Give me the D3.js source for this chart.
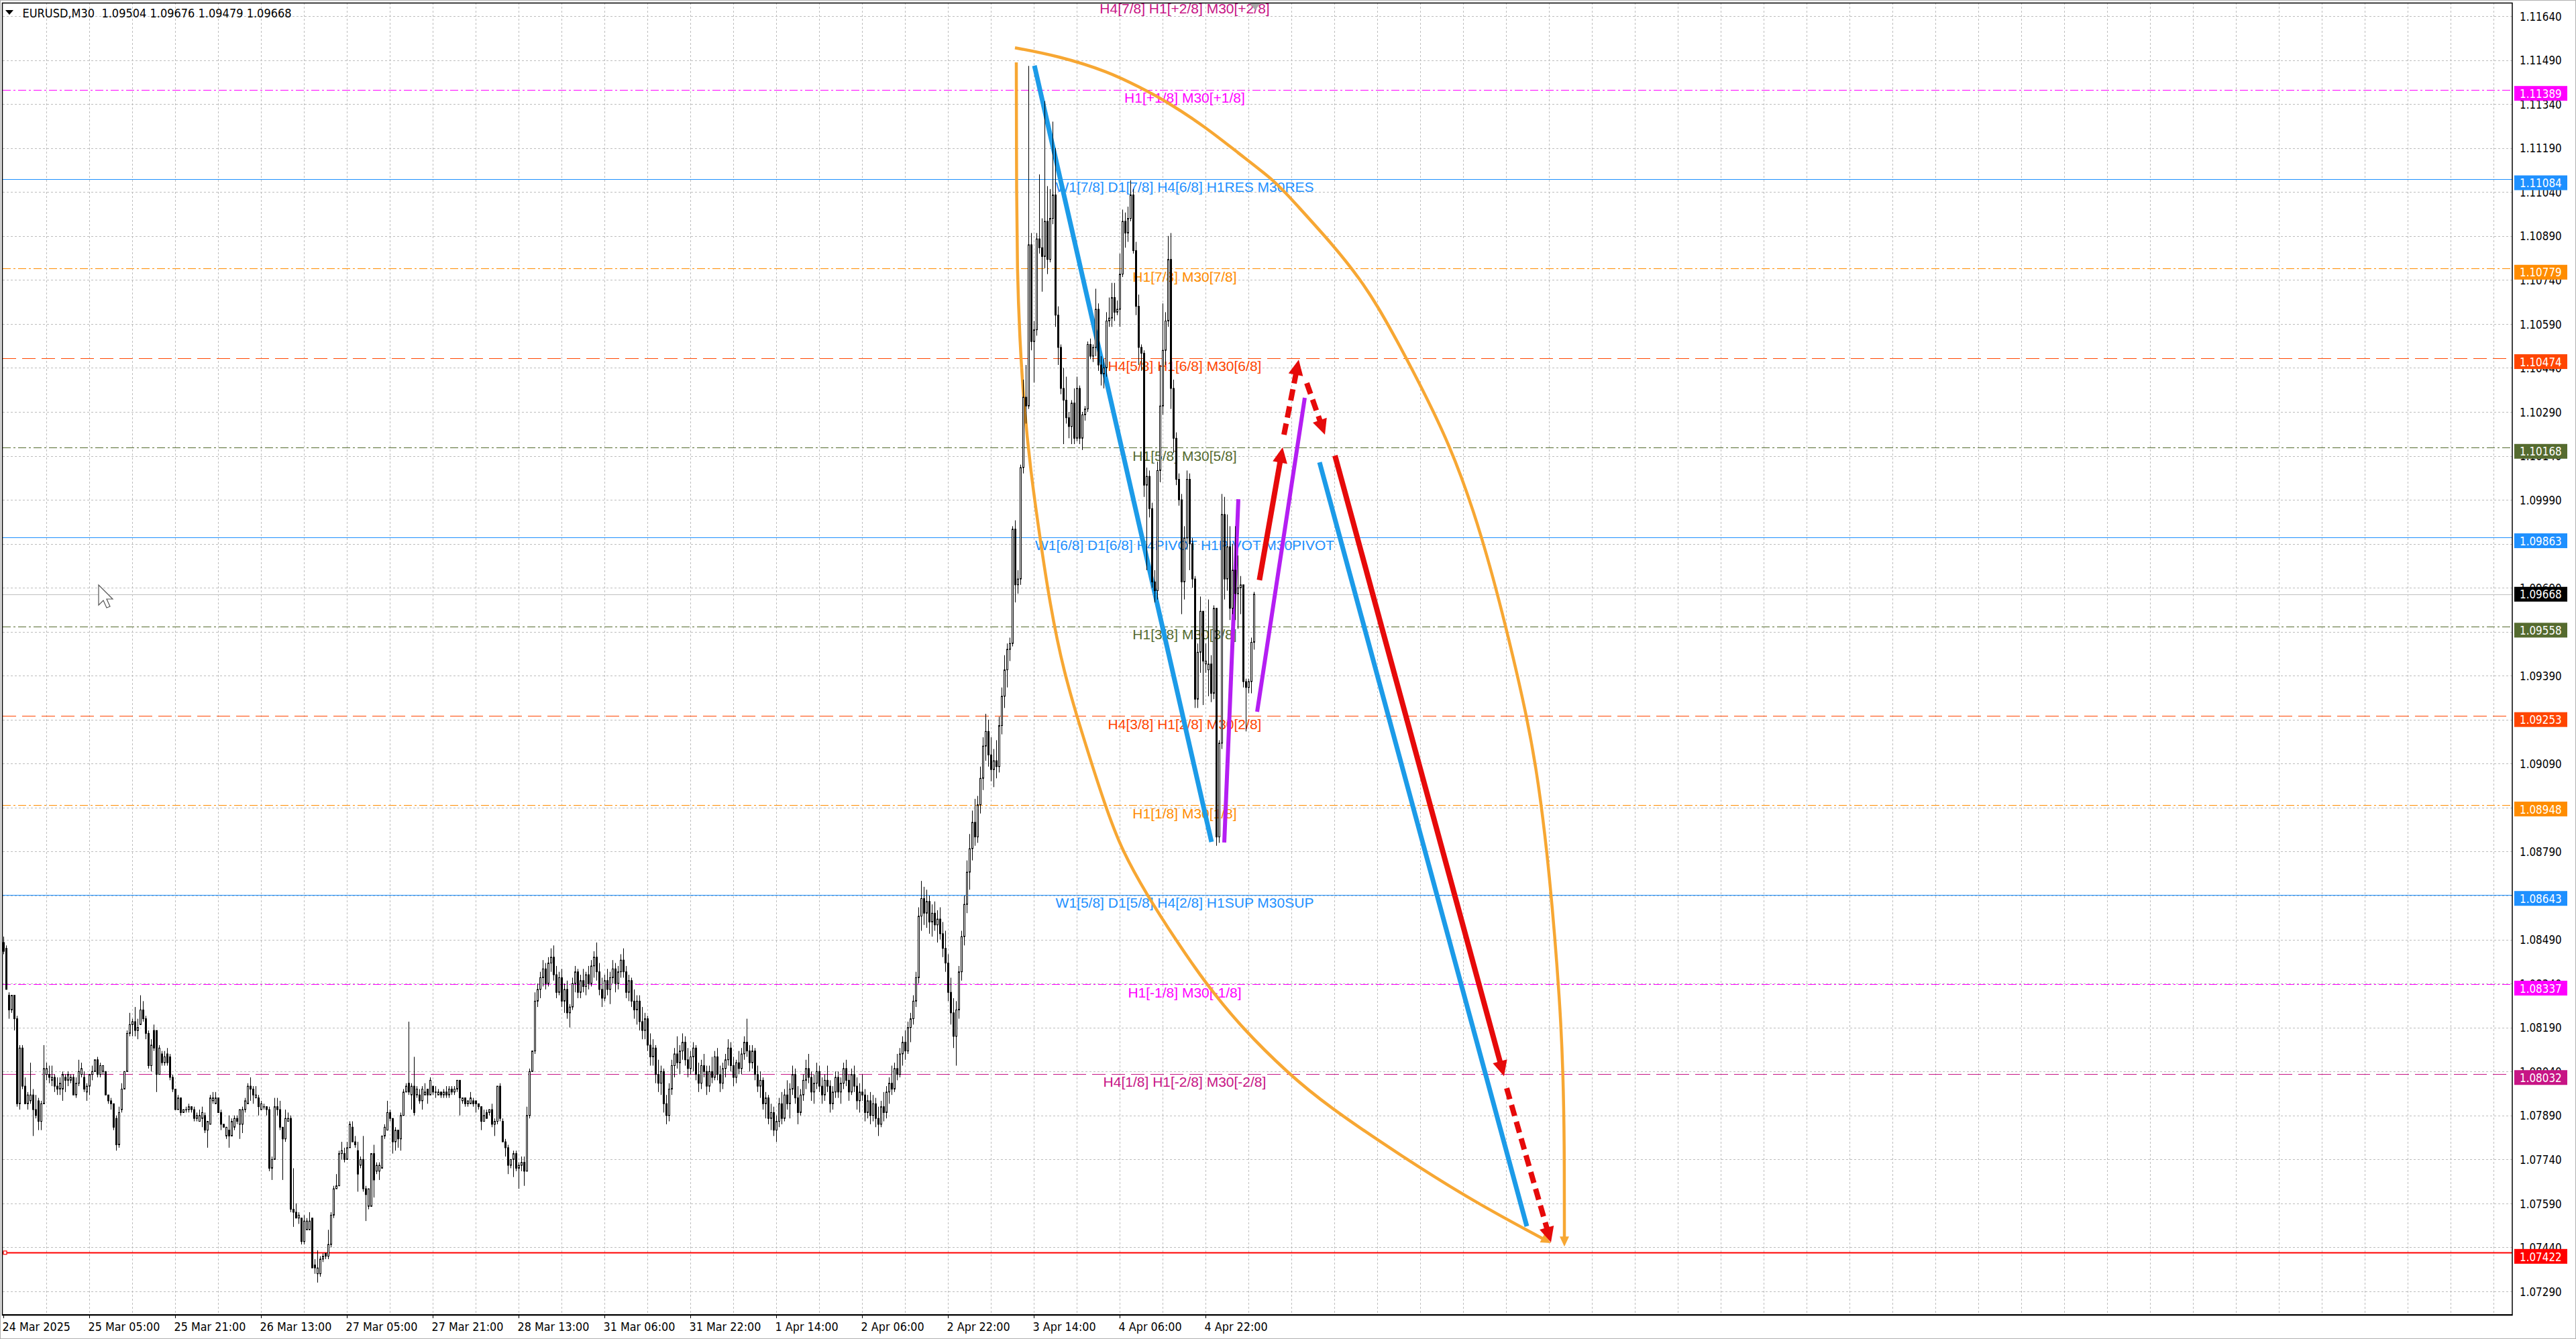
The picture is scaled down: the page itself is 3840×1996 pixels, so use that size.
<!DOCTYPE html>
<html><head><meta charset="utf-8">
<script src="https://cdn.jsdelivr.net/npm/d3@7"></script>
<style>html,body{margin:0;padding:0;background:#fff;overflow:hidden}</style>
</head><body>
<svg id="c" width="3840" height="1996" xmlns="http://www.w3.org/2000/svg"></svg>
<script>
// ---------------- DATA ----------------
const titleText = "EURUSD,M30  1.09504 1.09676 1.09479 1.09668";
const timeLabels = ["24 Mar 2025","25 Mar 05:00","25 Mar 21:00","26 Mar 13:00","27 Mar 05:00","27 Mar 21:00","28 Mar 13:00","31 Mar 06:00","31 Mar 22:00","1 Apr 14:00","2 Apr 06:00","2 Apr 22:00","3 Apr 14:00","4 Apr 06:00","4 Apr 22:00"];
const timeLabelBars = [0,32,64,96,128,160,192,224,256,288,320,352,384,416,448];
const priceTicks = [1.11640,1.11490,1.11340,1.11190,1.11040,1.10890,1.10740,1.10590,1.10440,1.10290,1.10140,1.09990,1.09840,1.09690,1.09540,1.09390,1.09240,1.09090,1.08940,1.08790,1.08640,1.08490,1.08340,1.08190,1.08040,1.07890,1.07740,1.07590,1.07440,1.07290];
const levelPrices = [1.11694,1.11389,1.11084,1.10779,1.10474,1.10168,1.09863,1.09558,1.09253,1.08948,1.08643,1.08337,1.08032,1.07422];
const levelTexts = ["H4[7/8] H1[+2/8] M30[+2/8]","H1[+1/8] M30[+1/8]","W1[7/8] D1[7/8] H4[6/8] H1RES M30RES","H1[7/8] M30[7/8]","H4[5/8] H1[6/8] M30[6/8]","H1[5/8] M30[5/8]","W1[6/8] D1[6/8] H4PIVOT H1PIVOT M30PIVOT","H1[3/8] M30[3/8]","H4[3/8] H1[2/8] M30[2/8]","H1[1/8] M30[1/8]","W1[5/8] D1[5/8] H4[2/8] H1SUP M30SUP","H1[-1/8] M30[-1/8]","H4[1/8] H1[-2/8] M30[-2/8]",""];
const levelColors = ["#C71585","#FF00FF","#1E90FF","#FF8C00","#FF4500","#556B2F","#1E90FF","#556B2F","#FF4500","#FF8C00","#1E90FF","#FF00FF","#C71585","#FF0000"];
const levelStyles = ["dash","dashdot","solid","dashdot","dash","dashdot","solid","dashdot","dash","dashdot","solid","dashdot","dash","solid"];
const levelLabelBar = 440.25;
const lastPrice = 1.09668;

// candles: [open, high, low, close]
const candles = [
[1.0848,1.0850,1.0844,1.0845],[1.0846,1.0847,1.0832,1.0832],[1.0830,1.0831,1.0822,1.0825],[1.0825,1.0830,1.0824,1.0830],[1.0830,1.0830,1.0818,1.0822],
[1.0822,1.0823,1.0792,1.0793],[1.0793,1.0813,1.0791,1.0812],[1.0812,1.0813,1.0798,1.0799],[1.0799,1.0802,1.0793,1.0793],[1.0793,1.0797,1.0791,1.0796],
[1.0794,1.0807,1.0793,1.0796],[1.0796,1.0798,1.0782,1.0791],[1.0791,1.0796,1.0788,1.0789],[1.0794,1.0795,1.0784,1.0787],[1.0787,1.0794,1.0784,1.0793],
[1.0793,1.0813,1.0793,1.0805],[1.0803,1.0807,1.0801,1.0805],[1.0803,1.0806,1.0800,1.0802],[1.0801,1.0806,1.0799,1.0802],[1.0802,1.0803,1.0797,1.0799],
[1.0799,1.0802,1.0796,1.0798],[1.0798,1.0802,1.0796,1.0800],[1.0798,1.0804,1.0794,1.0803],[1.0802,1.0803,1.0797,1.0801],[1.0801,1.0804,1.0799,1.0803],
[1.0801,1.0803,1.0800,1.0802],[1.0802,1.0803,1.0796,1.0796],[1.0796,1.0802,1.0795,1.0800],[1.0800,1.0808,1.0799,1.0804],[1.0803,1.0807,1.0802,1.0805],
[1.0802,1.0804,1.0797,1.0798],[1.0797,1.0800,1.0794,1.0799],[1.0799,1.0803,1.0796,1.0803],[1.0803,1.0806,1.0801,1.0804],[1.0804,1.0808,1.0804,1.0808],
[1.0808,1.0809,1.0802,1.0803],[1.0803,1.0807,1.0802,1.0806],[1.0804,1.0806,1.0803,1.0806],[1.0804,1.0804,1.0796,1.0796],[1.0796,1.0796,1.0793,1.0794],
[1.0794,1.0795,1.0791,1.0793],[1.0793,1.0793,1.0784,1.0785],[1.0788,1.0789,1.0777,1.0779],[1.0779,1.0792,1.0778,1.0790],[1.0791,1.0800,1.0790,1.0798],
[1.0798,1.0804,1.0798,1.0804],[1.0804,1.0818,1.0804,1.0817],[1.0817,1.0824,1.0816,1.0820],[1.0820,1.0822,1.0816,1.0821],[1.0821,1.0826,1.0816,1.0818],
[1.0818,1.0822,1.0815,1.0819],[1.0820,1.0830,1.0820,1.0825],[1.0825,1.0828,1.0821,1.0822],[1.0822,1.0823,1.0815,1.0817],[1.0817,1.0818,1.0805,1.0806],
[1.0806,1.0815,1.0804,1.0813],[1.0818,1.0820,1.0811,1.0812],[1.0818,1.0818,1.0797,1.0803],[1.0803,1.0813,1.0803,1.0812],[1.0810,1.0811,1.0806,1.0807],
[1.0807,1.0811,1.0806,1.0809],[1.0810,1.0812,1.0806,1.0807],[1.0809,1.0810,1.0801,1.0802],[1.0802,1.0803,1.0797,1.0798],[1.0798,1.0798,1.0791,1.0791],
[1.0791,1.0796,1.0791,1.0795],[1.0795,1.0795,1.0789,1.0790],[1.0790,1.0791,1.0790,1.0791],[1.0791,1.0792,1.0790,1.0791],[1.0791,1.0793,1.0790,1.0792],
[1.0792,1.0792,1.0790,1.0791],[1.0791,1.0792,1.0787,1.0788],[1.0788,1.0790,1.0787,1.0789],[1.0787,1.0791,1.0787,1.0789],[1.0788,1.0792,1.0785,1.0790],
[1.0789,1.0790,1.0783,1.0784],[1.0784,1.0787,1.0778,1.0787],[1.0786,1.0796,1.0786,1.0795],[1.0794,1.0797,1.0793,1.0795],[1.0793,1.0797,1.0793,1.0795],
[1.0795,1.0795,1.0790,1.0790],[1.0790,1.0791,1.0784,1.0786],[1.0786,1.0786,1.0785,1.0785],[1.0782,1.0785,1.0781,1.0785],[1.0784,1.0789,1.0778,1.0782],
[1.0782,1.0788,1.0782,1.0787],[1.0785,1.0789,1.0784,1.0788],[1.0788,1.0789,1.0786,1.0787],[1.0786,1.0791,1.0781,1.0791],[1.0786,1.0792,1.0783,1.0791],
[1.0791,1.0795,1.0790,1.0794],[1.0793,1.0800,1.0793,1.0799],[1.0799,1.0802,1.0794,1.0798],[1.0798,1.0799,1.0793,1.0796],[1.0795,1.0799,1.0795,1.0796],
[1.0795,1.0796,1.0789,1.0792],[1.0791,1.0794,1.0791,1.0793],[1.0792,1.0793,1.0791,1.0792],[1.0792,1.0792,1.0789,1.0791],[1.0791,1.0792,1.0770,1.0771],
[1.0771,1.0775,1.0767,1.0774],[1.0774,1.0795,1.0774,1.0792],[1.0792,1.0795,1.0789,1.0791],[1.0791,1.0794,1.0784,1.0785],[1.0785,1.0785,1.0767,1.0781],
[1.0781,1.0791,1.0780,1.0788],[1.0787,1.0790,1.0787,1.0788],[1.0788,1.0789,1.0756,1.0757],[1.0757,1.0771,1.0751,1.0756],[1.0756,1.0759,1.0754,1.0754],
[1.0754,1.0756,1.0752,1.0755],[1.0754,1.0754,1.0745,1.0746],[1.0746,1.0755,1.0745,1.0753],[1.0750,1.0754,1.0750,1.0753],[1.0750,1.0756,1.0750,1.0753],
[1.0754,1.0754,1.0737,1.0737],[1.0738,1.0740,1.0735,1.0737],[1.0735,1.0743,1.0732,1.0737],[1.0735,1.0741,1.0734,1.0740],[1.0740,1.0742,1.0739,1.0741],
[1.0742,1.0742,1.0740,1.0741],[1.0741,1.0750,1.0740,1.0745],[1.0745,1.0756,1.0744,1.0755],[1.0755,1.0765,1.0754,1.0764],[1.0764,1.0769,1.0764,1.0765],
[1.0765,1.0777,1.0765,1.0776],[1.0776,1.0780,1.0774,1.0777],[1.0776,1.0778,1.0773,1.0774],[1.0774,1.0780,1.0774,1.0778],[1.0778,1.0787,1.0778,1.0786],
[1.0785,1.0787,1.0780,1.0780],[1.0780,1.0782,1.0778,1.0779],[1.0777,1.0780,1.0763,1.0769],[1.0772,1.0775,1.0771,1.0774],[1.0774,1.0782,1.0763,1.0764],
[1.0764,1.0765,1.0753,1.0762],[1.0758,1.0764,1.0757,1.0764],[1.0758,1.0776,1.0758,1.0776],[1.0776,1.0779,1.0761,1.0767],[1.0770,1.0773,1.0769,1.0772],
[1.0770,1.0773,1.0767,1.0772],[1.0771,1.0782,1.0771,1.0782],[1.0782,1.0786,1.0781,1.0785],[1.0784,1.0794,1.0784,1.0790],[1.0790,1.0791,1.0787,1.0788],
[1.0788,1.0788,1.0776,1.0780],[1.0780,1.0785,1.0777,1.0784],[1.0784,1.0784,1.0778,1.0781],[1.0781,1.0790,1.0777,1.0789],[1.0789,1.0798,1.0789,1.0797],
[1.0797,1.0800,1.0797,1.0799],[1.0800,1.0821,1.0796,1.0797],[1.0796,1.0800,1.0791,1.0799],[1.0799,1.0809,1.0789,1.0790],[1.0796,1.0799,1.0795,1.0798],
[1.0796,1.0798,1.0793,1.0794],[1.0794,1.0799,1.0791,1.0798],[1.0796,1.0800,1.0796,1.0797],[1.0798,1.0798,1.0793,1.0796],[1.0796,1.0802,1.0796,1.0801],
[1.0799,1.0799,1.0796,1.0797],[1.0797,1.0799,1.0795,1.0797],[1.0796,1.0798,1.0796,1.0797],[1.0797,1.0797,1.0795,1.0796],[1.0796,1.0798,1.0795,1.0797],
[1.0797,1.0799,1.0795,1.0796],[1.0796,1.0799,1.0795,1.0798],[1.0798,1.0799,1.0796,1.0797],[1.0797,1.0799,1.0796,1.0798],[1.0798,1.0801,1.0797,1.0801],
[1.0801,1.0801,1.0789,1.0795],[1.0794,1.0795,1.0793,1.0795],[1.0795,1.0795,1.0792,1.0793],[1.0793,1.0794,1.0792,1.0794],[1.0793,1.0797,1.0793,1.0795],
[1.0794,1.0795,1.0792,1.0793],[1.0794,1.0794,1.0790,1.0793],[1.0793,1.0793,1.0791,1.0792],[1.0792,1.0792,1.0784,1.0787],[1.0787,1.0791,1.0787,1.0789],
[1.0790,1.0791,1.0788,1.0788],[1.0790,1.0791,1.0789,1.0791],[1.0791,1.0793,1.0785,1.0786],[1.0786,1.0788,1.0782,1.0787],[1.0787,1.0799,1.0786,1.0799],
[1.0799,1.0800,1.0787,1.0788],[1.0787,1.0788,1.0780,1.0780],[1.0780,1.0781,1.0775,1.0778],[1.0778,1.0779,1.0769,1.0772],[1.0772,1.0774,1.0771,1.0774],
[1.0774,1.0777,1.0768,1.0776],[1.0776,1.0777,1.0770,1.0771],[1.0771,1.0773,1.0764,1.0772],[1.0772,1.0775,1.0770,1.0773],[1.0773,1.0775,1.0765,1.0770],
[1.0770,1.0792,1.0770,1.0789],[1.0789,1.0805,1.0788,1.0804],[1.0804,1.0811,1.0804,1.0811],[1.0811,1.0831,1.0810,1.0828],[1.0828,1.0834,1.0826,1.0832],
[1.0832,1.0838,1.0829,1.0836],[1.0836,1.0842,1.0833,1.0839],[1.0839,1.0841,1.0832,1.0834],[1.0834,1.0843,1.0833,1.0841],[1.0841,1.0846,1.0838,1.0843],
[1.0843,1.0847,1.0835,1.0837],[1.0837,1.0840,1.0829,1.0831],[1.0831,1.0838,1.0830,1.0836],[1.0836,1.0839,1.0826,1.0828],[1.0828,1.0834,1.0824,1.0832],
[1.0832,1.0835,1.0822,1.0824],[1.0824,1.0827,1.0819,1.0826],[1.0826,1.0836,1.0825,1.0834],[1.0834,1.0840,1.0831,1.0838],[1.0838,1.0839,1.0829,1.0831],
[1.0831,1.0837,1.0829,1.0835],[1.0835,1.0839,1.0831,1.0833],[1.0833,1.0838,1.0830,1.0837],[1.0837,1.0840,1.0832,1.0834],[1.0834,1.0842,1.0833,1.0840],
[1.0840,1.0845,1.0836,1.0843],[1.0843,1.0848,1.0835,1.0838],[1.0838,1.0841,1.0830,1.0832],[1.0832,1.0836,1.0826,1.0829],[1.0829,1.0837,1.0828,1.0835],
[1.0835,1.0839,1.0830,1.0832],[1.0832,1.0838,1.0827,1.0836],[1.0836,1.0842,1.0834,1.0839],[1.0839,1.0841,1.0831,1.0834],[1.0834,1.0840,1.0832,1.0838],
[1.0838,1.0844,1.0836,1.0842],[1.0842,1.0846,1.0836,1.0838],[1.0838,1.0840,1.0829,1.0831],[1.0831,1.0837,1.0828,1.0835],[1.0835,1.0836,1.0826,1.0828],
[1.0828,1.0832,1.0822,1.0825],[1.0825,1.0830,1.0820,1.0828],[1.0828,1.0830,1.0818,1.0821],[1.0821,1.0826,1.0815,1.0818],[1.0818,1.0824,1.0815,1.0822],
[1.0822,1.0823,1.0811,1.0813],[1.0813,1.0817,1.0806,1.0809],[1.0809,1.0815,1.0806,1.0812],[1.0812,1.0813,1.0800,1.0803],[1.0803,1.0808,1.0797,1.0800],
[1.0800,1.0806,1.0796,1.0804],[1.0804,1.0805,1.0790,1.0793],[1.0793,1.0796,1.0786,1.0789],[1.0789,1.0800,1.0787,1.0798],[1.0798,1.0808,1.0796,1.0806],
[1.0806,1.0812,1.0802,1.0810],[1.0810,1.0816,1.0805,1.0807],[1.0807,1.0813,1.0803,1.0811],[1.0811,1.0817,1.0808,1.0814],[1.0814,1.0816,1.0806,1.0808],
[1.0808,1.0812,1.0802,1.0805],[1.0805,1.0811,1.0803,1.0809],[1.0809,1.0814,1.0804,1.0812],[1.0812,1.0813,1.0801,1.0803],[1.0803,1.0807,1.0797,1.0800],
[1.0800,1.0808,1.0798,1.0806],[1.0806,1.0810,1.0802,1.0804],[1.0804,1.0806,1.0796,1.0799],[1.0799,1.0806,1.0797,1.0804],[1.0804,1.0809,1.0800,1.0802],
[1.0802,1.0811,1.0801,1.0809],[1.0809,1.0812,1.0801,1.0803],[1.0803,1.0806,1.0797,1.0800],[1.0800,1.0807,1.0798,1.0805],[1.0805,1.0810,1.0802,1.0808],
[1.0808,1.0815,1.0806,1.0812],[1.0812,1.0814,1.0804,1.0806],[1.0806,1.0809,1.0799,1.0802],[1.0802,1.0808,1.0800,1.0807],[1.0807,1.0811,1.0803,1.0805],
[1.0805,1.0812,1.0803,1.0810],[1.0810,1.0816,1.0808,1.0814],[1.0814,1.0822,1.0809,1.0811],[1.0811,1.0813,1.0804,1.0807],[1.0807,1.0813,1.0805,1.0811],
[1.0811,1.0812,1.0801,1.0803],[1.0803,1.0806,1.0797,1.0799],[1.0799,1.0804,1.0795,1.0801],[1.0801,1.0802,1.0791,1.0793],[1.0793,1.0797,1.0788,1.0795],
[1.0795,1.0796,1.0786,1.0788],[1.0788,1.0793,1.0784,1.0790],[1.0790,1.0792,1.0782,1.0784],[1.0784,1.0789,1.0780,1.0787],[1.0787,1.0795,1.0785,1.0793],
[1.0793,1.0797,1.0786,1.0788],[1.0788,1.0798,1.0787,1.0796],[1.0796,1.0801,1.0791,1.0793],[1.0793,1.0800,1.0788,1.0798],[1.0798,1.0806,1.0796,1.0803],
[1.0803,1.0805,1.0793,1.0795],[1.0795,1.0799,1.0786,1.0790],[1.0790,1.0798,1.0789,1.0796],[1.0796,1.0803,1.0794,1.0801],[1.0801,1.0808,1.0798,1.0805],
[1.0805,1.0810,1.0800,1.0802],[1.0802,1.0804,1.0794,1.0797],[1.0797,1.0803,1.0793,1.0800],[1.0800,1.0807,1.0798,1.0804],[1.0804,1.0806,1.0797,1.0799],
[1.0799,1.0802,1.0793,1.0796],[1.0796,1.0803,1.0794,1.0801],[1.0801,1.0806,1.0797,1.0799],[1.0799,1.0801,1.0790,1.0793],[1.0793,1.0799,1.0791,1.0797],
[1.0797,1.0804,1.0795,1.0802],[1.0802,1.0804,1.0795,1.0797],[1.0797,1.0802,1.0793,1.0800],[1.0800,1.0807,1.0798,1.0805],[1.0805,1.0808,1.0799,1.0801],
[1.0801,1.0803,1.0794,1.0797],[1.0797,1.0805,1.0796,1.0803],[1.0803,1.0806,1.0797,1.0799],[1.0799,1.0802,1.0791,1.0794],[1.0794,1.0800,1.0790,1.0797],
[1.0797,1.0803,1.0794,1.0796],[1.0796,1.0798,1.0787,1.0790],[1.0790,1.0796,1.0788,1.0794],[1.0794,1.0797,1.0786,1.0789],[1.0789,1.0796,1.0787,1.0793],
[1.0793,1.0795,1.0785,1.0788],[1.0788,1.0792,1.0782,1.0786],[1.0786,1.0794,1.0785,1.0792],[1.0792,1.0797,1.0787,1.0790],[1.0790,1.0799,1.0788,1.0797],
[1.0797,1.0802,1.0793,1.0800],[1.0800,1.0806,1.0796,1.0798],[1.0798,1.0807,1.0797,1.0805],[1.0805,1.0810,1.0801,1.0803],[1.0803,1.0812,1.0802,1.0810],
[1.0810,1.0816,1.0806,1.0814],[1.0814,1.0818,1.0808,1.0811],[1.0811,1.0821,1.0810,1.0819],[1.0819,1.0824,1.0814,1.0822],[1.0822,1.0830,1.0820,1.0828],
[1.0828,1.0838,1.0826,1.0836],[1.0836,1.0860,1.0834,1.0857],[1.0857,1.0869,1.0852,1.0863],[1.0863,1.0867,1.0854,1.0858],[1.0858,1.0866,1.0853,1.0862],
[1.0862,1.0864,1.0851,1.0855],[1.0855,1.0861,1.0850,1.0858],[1.0858,1.0862,1.0852,1.0854],[1.0854,1.0859,1.0848,1.0856],[1.0856,1.0860,1.0849,1.0851],
[1.0851,1.0855,1.0843,1.0846],[1.0846,1.0852,1.0838,1.0841],[1.0841,1.0844,1.0828,1.0831],[1.0831,1.0836,1.0820,1.0824],[1.0824,1.0829,1.0812,1.0816],
[1.0816,1.0828,1.0806,1.0825],[1.0825,1.0840,1.0822,1.0838],[1.0838,1.0852,1.0835,1.0850],[1.0850,1.0864,1.0847,1.0861],[1.0861,1.0876,1.0858,1.0872],
[1.0872,1.0885,1.0866,1.0880],[1.0880,1.0893,1.0876,1.0889],[1.0889,1.0897,1.0881,1.0884],[1.0884,1.0898,1.0882,1.0895],[1.0895,1.0908,1.0892,1.0904],
[1.0904,1.0918,1.0900,1.0915],[1.0915,1.0926,1.0910,1.0920],[1.0920,1.0924,1.0908,1.0912],[1.0912,1.0918,1.0903,1.0907],[1.0907,1.0914,1.0901,1.0910],
[1.0910,1.0917,1.0904,1.0908],[1.0908,1.0925,1.0906,1.0922],[1.0922,1.0935,1.0919,1.0932],[1.0932,1.0946,1.0928,1.0941],[1.0941,1.0950,1.0935,1.0948],
[1.0948,1.0952,1.0944,1.0950],[1.0950,1.0990,1.0949,1.0989],[1.0989,1.0992,1.0964,1.0970],[1.0970,1.0975,1.0967,1.0972],[1.0972,1.1011,1.0970,1.1010],
[1.1010,1.1040,1.1008,1.1034],[1.1034,1.1045,1.1025,1.1031],[1.1031,1.1147,1.1030,1.1086],[1.1086,1.1090,1.1050,1.1053],[1.1053,1.1060,1.1039,1.1057],
[1.1057,1.1090,1.1055,1.1088],[1.1088,1.1110,1.1083,1.1085],[1.1085,1.1095,1.1070,1.1082],[1.1082,1.1135,1.1078,1.1094],[1.1094,1.1106,1.1076,1.1081],
[1.1081,1.1105,1.1080,1.1095],[1.1095,1.1128,1.1093,1.1103],[1.1103,1.1119,1.1058,1.1062],[1.1062,1.1065,1.1045,1.1051],[1.1051,1.1052,1.1035,1.1037],
[1.1037,1.1044,1.1018,1.1033],[1.1033,1.1041,1.1025,1.1027],[1.1027,1.1029,1.1020,1.1024],[1.1024,1.1033,1.1018,1.1032],[1.1032,1.1037,1.1018,1.1020],
[1.1020,1.1041,1.1019,1.1037],[1.1037,1.1038,1.1018,1.1020],[1.1020,1.1029,1.1016,1.1028],[1.1028,1.1031,1.1026,1.1030],[1.1030,1.1053,1.1029,1.1052],
[1.1052,1.1054,1.1047,1.1048],[1.1048,1.1052,1.1046,1.1051],[1.1051,1.1071,1.1048,1.1064],[1.1064,1.1066,1.1043,1.1045],[1.1045,1.1048,1.1038,1.1042],
[1.1042,1.1047,1.1037,1.1044],[1.1044,1.1063,1.1041,1.1060],[1.1060,1.1068,1.1058,1.1061],[1.1061,1.1073,1.1058,1.1068],[1.1068,1.1073,1.1060,1.1063],
[1.1063,1.1067,1.1062,1.1064],[1.1064,1.1083,1.1058,1.1076],[1.1076,1.1098,1.1075,1.1094],[1.1094,1.1097,1.1085,1.1090],[1.1090,1.1099,1.1087,1.1095],
[1.1095,1.1108,1.1094,1.1103],[1.1103,1.1105,1.1083,1.1084],[1.1084,1.1087,1.1062,1.1065],[1.1065,1.1069,1.1045,1.1051],[1.1051,1.1052,1.1043,1.1049],
[1.1049,1.1050,1.1000,1.1004],[1.1004,1.1010,1.0975,1.1007],[1.1007,1.1009,1.0993,1.0996],[1.0996,1.0998,1.0969,1.0971],[1.0971,1.0975,1.0964,1.0968],
[1.0968,1.1012,1.0965,1.1009],[1.1009,1.1045,1.1005,1.1031],[1.1031,1.1066,1.1028,1.1050],[1.1050,1.1063,1.1045,1.1060],[1.1060,1.1089,1.1058,1.1081],
[1.1081,1.1090,1.1030,1.1037],[1.1037,1.1040,1.1015,1.1020],[1.1020,1.1022,1.1004,1.1006],[1.1006,1.1008,1.0997,1.0999],[1.0999,1.1001,1.0960,1.0971],
[1.0971,1.0990,1.0965,1.0986],[1.0986,1.1009,1.0982,1.1006],[1.1006,1.1008,1.0975,1.0984],[1.0984,1.0986,1.0969,1.0972],[1.0972,1.0973,1.0928,1.0931],
[1.0931,1.0950,1.0928,1.0947],[1.0947,1.0966,1.0940,1.0961],[1.0961,1.0961,1.0929,1.0944],[1.0943,1.0950,1.0940,1.0944],[1.0941,1.0965,1.0932,1.0943],
[1.0943,1.0946,1.0930,1.0933],[1.0933,1.0963,1.0931,1.0962],[1.0962,1.0962,1.0881,1.0884],[1.0884,1.0917,1.0882,1.0916],[1.0916,1.1001,1.0914,1.0994],
[1.0994,1.1000,1.0965,1.0972],[1.0972,1.0994,1.0968,1.0983],[1.0983,1.0990,1.0958,1.0962],[1.0962,1.0984,1.0960,1.0975],[1.0975,1.0990,1.0958,1.0967],
[1.0967,1.0980,1.0955,1.0969],[1.0969,1.0973,1.0960,1.0970],[1.0970,1.0970,1.0935,1.0937],[1.0937,1.0938,1.0920,1.0935],[1.0935,1.0938,1.0933,1.0937],
[1.0937,1.0952,1.0933,1.09504],[1.09504,1.09676,1.09479,1.09668]
];

// annotations in [bar index, price]
const outerArc = [[377,1.11532],[392.75,1.11505],[412,1.11450],[423.5,1.11397],[433,1.11352],[448.25,1.11260],[459.75,1.11176],[474,1.11077],[480.75,1.11008],[496,1.10855],[505.75,1.10741],[512.25,1.10649],[518.25,1.10551],[522.75,1.10475],[539.5,1.10178],[551.25,1.09862],[560,1.09558],[568,1.09244],[572,1.09034],[576.25,1.08720],[580.25,1.08262],[581.25,1.08034],[581.75,1.07805],[581.75,1.07443]];
const innerArc = [[377.5,1.11482],[377.6,1.11008],[377.85,1.10780],[378.7,1.10551],[380.25,1.10322],[382.75,1.10093],[386.25,1.09864],[390,1.09636],[395,1.09407],[402.5,1.09178],[410.5,1.08949],[416.75,1.08796],[426,1.08645],[436.75,1.08491],[448.25,1.08338],[461.75,1.08187],[478.75,1.08034],[493.25,1.07924],[521.25,1.07750],[548.75,1.07592],[576.75,1.07455]];
const blueLines = [[[384.25,1.11471],[450.25,1.08823]],[[490.5,1.10118],[567.75,1.07512]]];
const purpleLines = [[[455,1.08821],[460.25,1.09992]],[[467.25,1.09267],[485,1.10338]]];
const redArrows = [
  {from:[468.1,1.09716], to:[476.75,1.10169], dashed:false},
  {from:[477.25,1.10212], to:[482.75,1.10468], dashed:true},
  {from:[485.75,1.10388], to:[492.5,1.10212], dashed:true},
  {from:[496.25,1.10141], to:[559.25,1.08024], dashed:false},
  {from:[560.25,1.07983], to:[576.75,1.07457], dashed:true}
];

// ---------------- DRAW ----------------
const svg = d3.select('#c');
const PL=4, PT=4, PR=3745, PB=1960;
const x = d3.scaleLinear().domain([0,466]).range([5,1869]);
const y = d3.scaleLinear().domain([1.07290,1.11640]).range([1925,24]);

svg.append('rect').attr('width',3840).attr('height',1996).attr('fill','#fff');
svg.append('defs').append('clipPath').attr('id','clip')
  .append('rect').attr('x',PL).attr('y',PT).attr('width',PR-PL).attr('height',PB-PT);
const g = svg.append('g').attr('clip-path','url(#clip)');

// grid
const gridColor = '#bdbdbd';
d3.range(1,59).forEach(k=>{
  const gx = Math.round(x(k*16))+0.5;
  g.append('line').attr('x1',gx).attr('x2',gx).attr('y1',PT).attr('y2',PB)
    .attr('stroke',gridColor).attr('stroke-width',1).attr('stroke-dasharray','3,3');
});
priceTicks.forEach(p=>{
  const gy = Math.round(y(p))+0.5;
  g.append('line').attr('x1',PL).attr('x2',PR).attr('y1',gy).attr('y2',gy)
    .attr('stroke',gridColor).attr('stroke-width',1).attr('stroke-dasharray','3,3');
});

// levels
const dashMap = {solid:null, dash:'20,9', dashdot:'12,4,3,4'};
levelPrices.forEach((p,i)=>{
  const ly = Math.round(y(p))+0.5;
  const ln = g.append('line').attr('x1',PL).attr('x2',PR).attr('y1',ly).attr('y2',ly)
    .attr('stroke',levelColors[i]).attr('stroke-width', i===13?1.8:1.2);
  if(dashMap[levelStyles[i]]) ln.attr('stroke-dasharray',dashMap[levelStyles[i]]);
  if(levelTexts[i]){
    g.append('text').attr('x',x(levelLabelBar)).attr('y',y(p)+19.5)
      .attr('text-anchor','middle').attr('font-family','"Liberation Sans", Arial, sans-serif')
      .attr('font-size','21px').attr('fill',levelColors[i]).text(levelTexts[i]);
  }
});
// small marker on red line
g.append('rect').attr('x',5).attr('y',y(1.07422)-2.5).attr('width',5).attr('height',5)
  .attr('fill','#fff').attr('stroke','#FF0000').attr('stroke-width',1.2);

// current price line
g.append('line').attr('x1',PL).attr('x2',PR).attr('y1',Math.round(y(lastPrice))+0.5).attr('y2',Math.round(y(lastPrice))+0.5)
  .attr('stroke','#c0c0c0').attr('stroke-width',1.2);

// helpers
function px(pt){ return [x(pt[0]), y(pt[1])]; }
function head(tip, prev, len, wid){
  const dx=tip[0]-prev[0], dy=tip[1]-prev[1], L=Math.hypot(dx,dy);
  const ux=dx/L, uy=dy/L, nx=-uy, ny=ux;
  const bx=tip[0]-ux*len, by=tip[1]-uy*len;
  return {pts:[[tip[0],tip[1]],[bx+nx*wid/2,by+ny*wid/2],[bx-nx*wid/2,by-ny*wid/2]], base:[tip[0]-ux*len*0.7, tip[1]-uy*len*0.7]};
}
const orange='#F7A733', blue='#1C9BE8', purple='#B41EF2', red='#E60A0A';

// orange arcs (smoothed B-spline through the read points)
[outerArc, innerArc].forEach(arc=>{
  const pts = arc.map(px);
  const tip = pts[pts.length-1], prev = pts[pts.length-2];
  const h = head(tip, prev, 15, 14);
  const linePts = pts.slice(0,-1).concat([h.base]);
  g.append('path').attr('d', d3.line().curve(d3.curveBasis)(linePts))
    .attr('fill','none').attr('stroke',orange).attr('stroke-width',4.5);
  g.append('polygon').attr('points',h.pts.map(p=>p.join(',')).join(' ')).attr('fill',orange);
});

// blue & purple
blueLines.forEach(l=>{
  const [a,b]=l.map(px);
  g.append('line').attr('x1',a[0]).attr('y1',a[1]).attr('x2',b[0]).attr('y2',b[1])
    .attr('stroke',blue).attr('stroke-width',7);
});
purpleLines.forEach(l=>{
  const [a,b]=l.map(px);
  g.append('line').attr('x1',a[0]).attr('y1',a[1]).attr('x2',b[0]).attr('y2',b[1])
    .attr('stroke',purple).attr('stroke-width',6);
});
// red arrows
redArrows.forEach(r=>{
  const a=px(r.from), b=px(r.to);
  const h=head(b,a,23,22);
  const ln=g.append('line').attr('x1',a[0]).attr('y1',a[1]).attr('x2',h.base[0]).attr('y2',h.base[1])
    .attr('stroke',red).attr('stroke-width',8);
  if(r.dashed) ln.attr('stroke-dasharray','17,9');
  g.append('polygon').attr('points',h.pts.map(p=>p.join(',')).join(' ')).attr('fill',red);
});

// candles
const cg = g.append('g');
candles.forEach((c,i)=>{
  const [o,hh,l,cl]=c;
  const cx = Math.round(x(i))+0.5;
  cg.append('line').attr('x1',cx).attr('x2',cx).attr('y1',y(hh)).attr('y2',y(l))
    .attr('stroke','#000').attr('stroke-width',1);
  const top = y(Math.max(o,cl)), bot = y(Math.min(o,cl));
  const bull = cl>o;
  cg.append('rect').attr('x',cx-1).attr('width',2)
    .attr('y',top).attr('height',Math.max(0.5,bot-top))
    .attr('fill',bull?'#fff':'#000').attr('stroke','#000').attr('stroke-width',1);
});

// chart shift marker
const sx = x(466)+2;
svg.append('polygon').attr('points',`${sx-8},${PT+1} ${sx+8},${PT+1} ${sx},${PT+11}`).attr('fill','#a8a8a8');

// frame
svg.append('rect').attr('x',0.5).attr('y',0.5).attr('width',3839).attr('height',1995)
  .attr('fill','none').attr('stroke','#b0b0b0').attr('stroke-width',1);
svg.append('rect').attr('x',PL-0.5).attr('y',PT+0.5).attr('width',PR-PL+0.5).attr('height',PB-PT)
  .attr('fill','none').attr('stroke','#000').attr('stroke-width',1.5);
svg.append('line').attr('x1',PL).attr('x2',PR).attr('y1',PB).attr('y2',PB).attr('stroke','#000').attr('stroke-width',2);

// right axis labels
const axisFont = '"DejaVu Sans", Verdana, sans-serif';
priceTicks.forEach(p=>{
  svg.append('text').attr('transform',`translate(3756,${y(p)+6.7}) scale(0.82,1)`)
    .attr('font-family',axisFont).attr('font-size','18.5px').attr('fill','#000').text(p.toFixed(5));
});
levelPrices.forEach((p,i)=>{
  if(i===0) return;
  svg.append('rect').attr('x',3748).attr('y',y(p)-5.5).attr('width',79).attr('height',22).attr('fill',levelColors[i]);
  svg.append('text').attr('transform',`translate(3756,${y(p)+12.2}) scale(0.82,1)`)
    .attr('font-family',axisFont).attr('font-size','18.5px').attr('fill','#fff').text(p.toFixed(5));
});
svg.append('rect').attr('x',3748).attr('y',y(lastPrice)-11).attr('width',79).attr('height',22).attr('fill','#000');
svg.append('text').attr('transform',`translate(3756,${y(lastPrice)+6.7}) scale(0.82,1)`)
  .attr('font-family',axisFont).attr('font-size','18.5px').attr('fill','#fff').text(lastPrice.toFixed(5));

// bottom labels
timeLabels.forEach((t,i)=>{
  const tx = x(timeLabelBars[i]);
  svg.append('line').attr('x1',Math.round(tx)+0.5).attr('x2',Math.round(tx)+0.5).attr('y1',PB).attr('y2',PB+5).attr('stroke','#000');
  svg.append('text').attr('transform',`translate(${tx-1.5},1984) scale(0.866,1)`)
    .attr('font-family',axisFont).attr('font-size','18.5px').attr('fill','#000').text(t);
});

// title
svg.append('polygon').attr('points','8,15 20,15 14,22').attr('fill','#000');
svg.append('text').attr('transform','translate(33.5,26) scale(0.9,1)')
  .attr('font-family',axisFont).attr('font-size','18px').attr('fill','#000')
  .attr('xml:space','preserve').style('white-space','pre').text(titleText);

// mouse cursor
svg.append('path').attr('d','M147,872 L147,902 L154,895 L159,906 L164,904 L159,893 L168,893 Z')
  .attr('fill','#fff').attr('stroke','#555').attr('stroke-width',1.2);
</script>
</body></html>
